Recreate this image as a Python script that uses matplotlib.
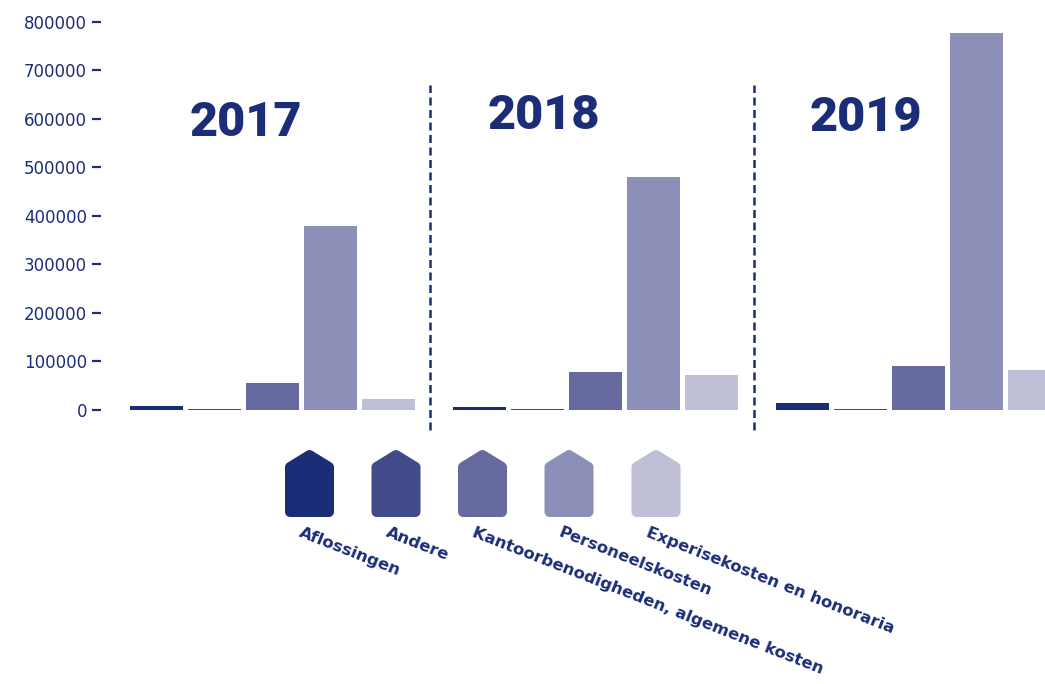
import matplotlib
matplotlib.use("Agg")
import matplotlib.pyplot as plt
import numpy as np

# data
years = ["2017", "2018", "2019"]
categories = ["Aflossingen", "Andere", "Kantoorbenodigheden, algemene kosten",
              "Personeelskosten", "Experisekosten en honoraria"]
values_2017 = [7000, 1000, 55000, 379000, 21500]
values_2018 = [5000, 1000, 77500, 480000, 71000]
values_2019 = [13500, 1000, 90000, 778000, 82000]
colors = ["#1c2d78", "#414b89", "#676a9e", "#8c8fb7", "#bfc0d8"]
yticks = [0, 100000, 200000, 300000, 400000, 500000, 600000, 700000, 800000]

navy = "#1c2d78"
plt.rcParams['font.family'] = ['DejaVu Sans']

fig = plt.figure(figsize=(10.45, 6.84), dpi=100)
W, H = 1045, 684

# main axes, placed in pixel terms
left_px, right_px, top_px, bottom_px = 101, 1045, 0, 430
ax = fig.add_axes([left_px / W, 1 - bottom_px / H,
                   (right_px - left_px) / W, (bottom_px - top_px) / H])

group_step = 5.57
bar_w = 0.91
all_values = [values_2017, values_2018, values_2019]
for g, vals in enumerate(all_values):
    x = g * group_step + np.arange(len(vals))
    ax.bar(x, vals, width=bar_w, color=colors)

ax.set_xlim(-0.957, 15.32)
ax.set_ylim(-42300, 845400)
ax.set_yticks(yticks)
ax.set_yticklabels([str(t) for t in yticks], fontsize=12, color=navy)
ax.tick_params(axis='y', length=6.5, width=1.6, color=navy, pad=3.6)
ax.set_xticks([])
for s in ax.spines.values():
    s.set_visible(False)

# dashed dividers between years
for xd in [4.716, 10.30]:
    ax.plot([xd, xd], [-42300, 670000], ls=(0, (3.2, 1.8)), lw=1.8, color=navy,
            clip_on=False)

# year titles
year_pos = [(1.54, 591000), (6.68, 606000), (12.23, 602000)]
for yr, (xt, yt) in zip(years, year_pos):
    ax.text(xt, yt, yr, ha='center', va='center', fontsize=35,
            fontweight='heavy', color=navy, family='Roboto')

# legend with house shaped markers
lax = fig.add_axes([0, 0, 1, 1])
lax.set_xlim(0, W)
lax.set_ylim(H, 0)
lax.axis('off')
centers = [309.5, 396, 482.5, 569, 656]
half = 24.5
r = 5
top, shoulder, bottom = 449, 465, 517
for cx, col, cat in zip(centers, colors, categories):
    pts = [(cx - half + r, bottom - r), (cx - half + r, shoulder + 2),
           (cx, top + r + 1), (cx + half - r, shoulder + 2),
           (cx + half - r, bottom - r)]
    poly = plt.Polygon(pts, closed=True, facecolor=col, edgecolor=col,
                       lw=2 * r * 72 / 100, joinstyle='round')
    lax.add_patch(poly)
    lax.text(cx - 7, 525, cat, rotation=-21.5, rotation_mode='anchor',
             ha='left', va='top', fontsize=11.8, fontweight='bold', color=navy)

fig.savefig("out.png", dpi=100)
